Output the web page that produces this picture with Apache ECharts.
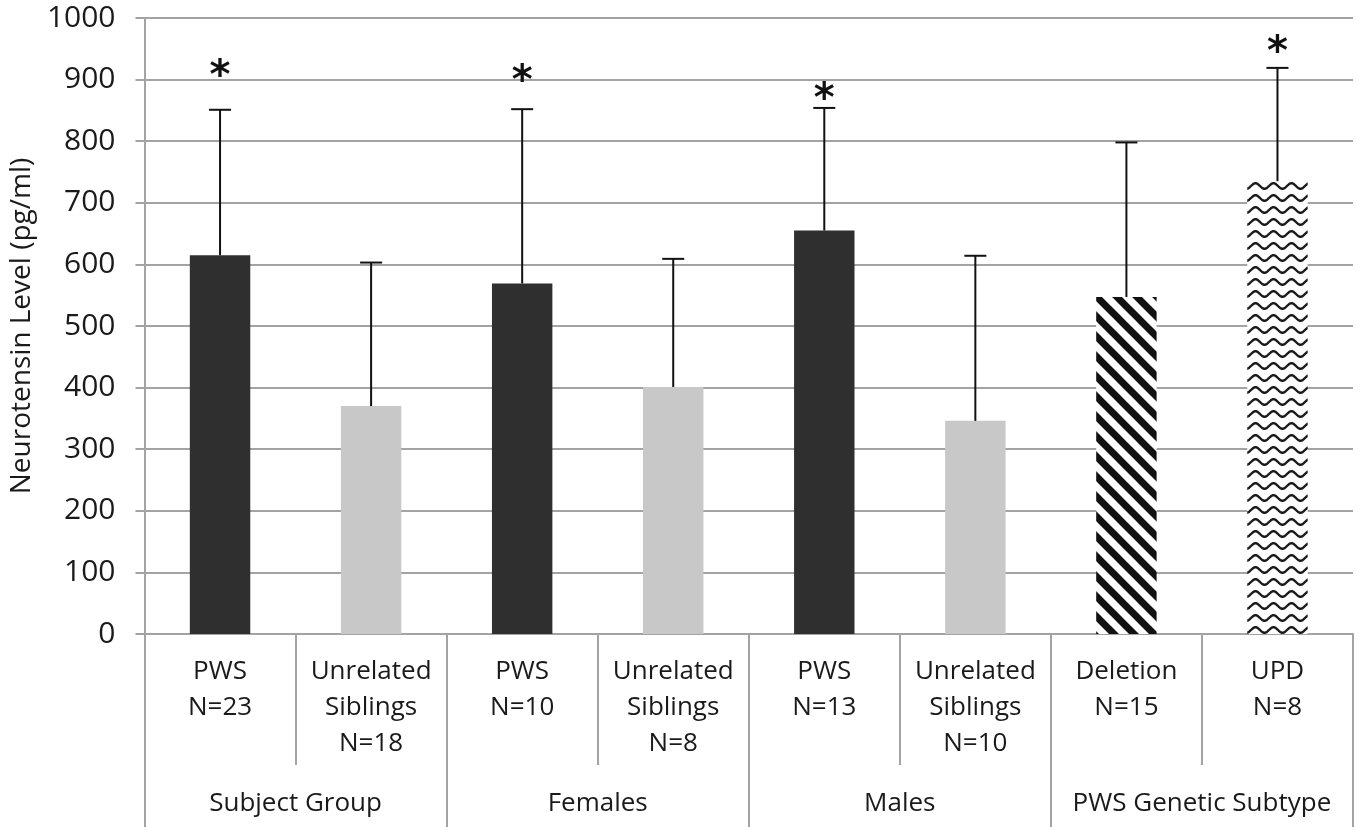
<!DOCTYPE html>
<html>
<head>
<meta charset="utf-8">
<script src="https://cdn.jsdelivr.net/npm/echarts@6/dist/echarts.min.js"></script>
<style>
html,body{margin:0;padding:0;background:#fff;}
#chart{width:1360px;height:827px;}
</style>
</head>
<body>
<div id="chart"></div>
<script>
// ---- data ----
const categories = ['PWS\nN=23', 'Unrelated\nSiblings\nN=18', 'PWS\nN=10', 'Unrelated\nSiblings\nN=8', 'PWS\nN=13', 'Unrelated\nSiblings\nN=10', 'Deletion\nN=15', 'UPD\nN=8'];
const groups = ['Subject Group', 'Females', 'Males', 'PWS Genetic Subtype'];
const means = [615, 370, 569, 401, 655, 346, 547, 735];
const errorTops = [851, 603, 852, 609, 854, 614, 798, 919];
const stars = [918, null, 910, null, 880, null, null, 957];
const yTicks = [0, 100, 200, 300, 400, 500, 600, 700, 800, 900, 1000];
const barKinds = ['dark', 'light', 'dark', 'light', 'dark', 'light', 'stripe', 'wave'];

// ---- patterns ----
function stripeCanvas() {
  const c = document.createElement('canvas');
  c.width = 20; c.height = 20;
  const g = c.getContext('2d');
  g.fillStyle = '#fff'; g.fillRect(0, 0, 20, 20);
  g.strokeStyle = '#111'; g.lineWidth = 7;
  for (let o = -20; o <= 20; o += 20) {
    g.beginPath(); g.moveTo(o - 5, -5); g.lineTo(o + 25, 25); g.stroke();
  }
  return c;
}
function waveCanvas() {
  const w = 18, h = 12;
  const c = document.createElement('canvas');
  c.width = w; c.height = h;
  const g = c.getContext('2d');
  g.fillStyle = '#fff'; g.fillRect(0, 0, w, h);
  g.strokeStyle = '#1a1a1a'; g.lineWidth = 2.4;
  g.beginPath();
  for (let x = -1; x <= w + 1; x += 0.5) {
    const y = h / 2 + 2.8 * Math.sin((x / w) * Math.PI * 2);
    if (x === -1) g.moveTo(x, y); else g.lineTo(x, y);
  }
  g.stroke();
  return c;
}
const fills = {
  dark: '#2f2f2f',
  light: '#c8c8c8',
  stripe: { image: stripeCanvas(), repeat: 'repeat' },
  wave: { image: waveCanvas(), repeat: 'repeat' }
};

const gridColor = '#a3a3a3';
const font = '"Open Sans", sans-serif';

const chart = echarts.init(document.getElementById('chart'));
chart.setOption({
  backgroundColor: '#fff',
  animation: false,
  grid: { left: 141, right: 7, top: 18, bottom: 193, containLabel: false },
  xAxis: [
    {
      type: 'category', data: categories, position: 'bottom',
      axisLine: { show: true, lineStyle: { color: gridColor, width: 2 } },
      axisTick: { show: true, interval: 0, length: 131, alignWithLabel: false, lineStyle: { color: gridColor, width: 2 } },
      axisLabel: { interval: 0, margin: 20, fontFamily: font, fontSize: 26, lineHeight: 36, color: '#1a1a1a', verticalAlign: 'top' }
    },
    {
      type: 'category', data: groups, position: 'bottom',
      axisLine: { show: false },
      axisTick: { show: true, interval: 0, length: 200, alignWithLabel: false, lineStyle: { color: gridColor, width: 2 } },
      axisLabel: { interval: 0, margin: 157, fontFamily: font, fontSize: 26, color: '#1a1a1a', verticalAlign: 'top' }
    }
  ],
  yAxis: {
    type: 'value', min: 0, max: 1000, interval: 100,
    name: 'Neurotensin Level (pg/ml)', nameLocation: 'middle', nameGap: 98,
    nameTextStyle: { fontFamily: font, fontSize: 28, color: '#1a1a1a' },
    axisLine: { show: true, lineStyle: { color: gridColor, width: 2 } },
    axisTick: { show: true, length: 9, lineStyle: { color: gridColor, width: 2 } },
    axisLabel: { margin: 29, fontFamily: font, fontSize: 30, color: '#1a1a1a',
      formatter: v => (yTicks.indexOf(v) >= 0 ? String(v) : '') },
    splitLine: { show: true, lineStyle: { color: gridColor, width: 2 } }
  },
  series: [
    {
      type: 'bar', xAxisIndex: 0, barWidth: '40%',
      data: means.map((v, i) => ({ value: v, itemStyle: { color: fills[barKinds[i]] } })),
      z: 2
    },
    {
      type: 'custom', xAxisIndex: 0, z: 5,
      data: means.map((v, i) => [i, v, errorTops[i]]),
      renderItem: function (params, api) {
        const p0 = api.coord([api.value(0), api.value(1)]);
        const p1 = api.coord([api.value(0), api.value(2)]);
        const hw = 11;
        const st = { stroke: '#111', lineWidth: 2 };
        return { type: 'group', children: [
          { type: 'line', shape: { x1: p0[0], y1: p0[1], x2: p1[0], y2: p1[1] }, style: st },
          { type: 'line', shape: { x1: p1[0] - hw, y1: p1[1], x2: p1[0] + hw, y2: p1[1] }, style: st }
        ] };
      }
    },
    {
      type: 'custom', xAxisIndex: 0, z: 6,
      data: stars.map((v, i) => [i, v]).filter(d => d[1] != null),
      renderItem: function (params, api) {
        const p = api.coord([api.value(0), api.value(1)]);
        return { type: 'text', x: p[0], y: p[1] + 9,
          style: { text: '*', fontFamily: 'DejaVu Sans', fontWeight: 'bold', fontSize: 40, fill: '#111', align: 'center', verticalAlign: 'middle' } };
      }
    }
  ]
});
</script>
</body>
</html>
